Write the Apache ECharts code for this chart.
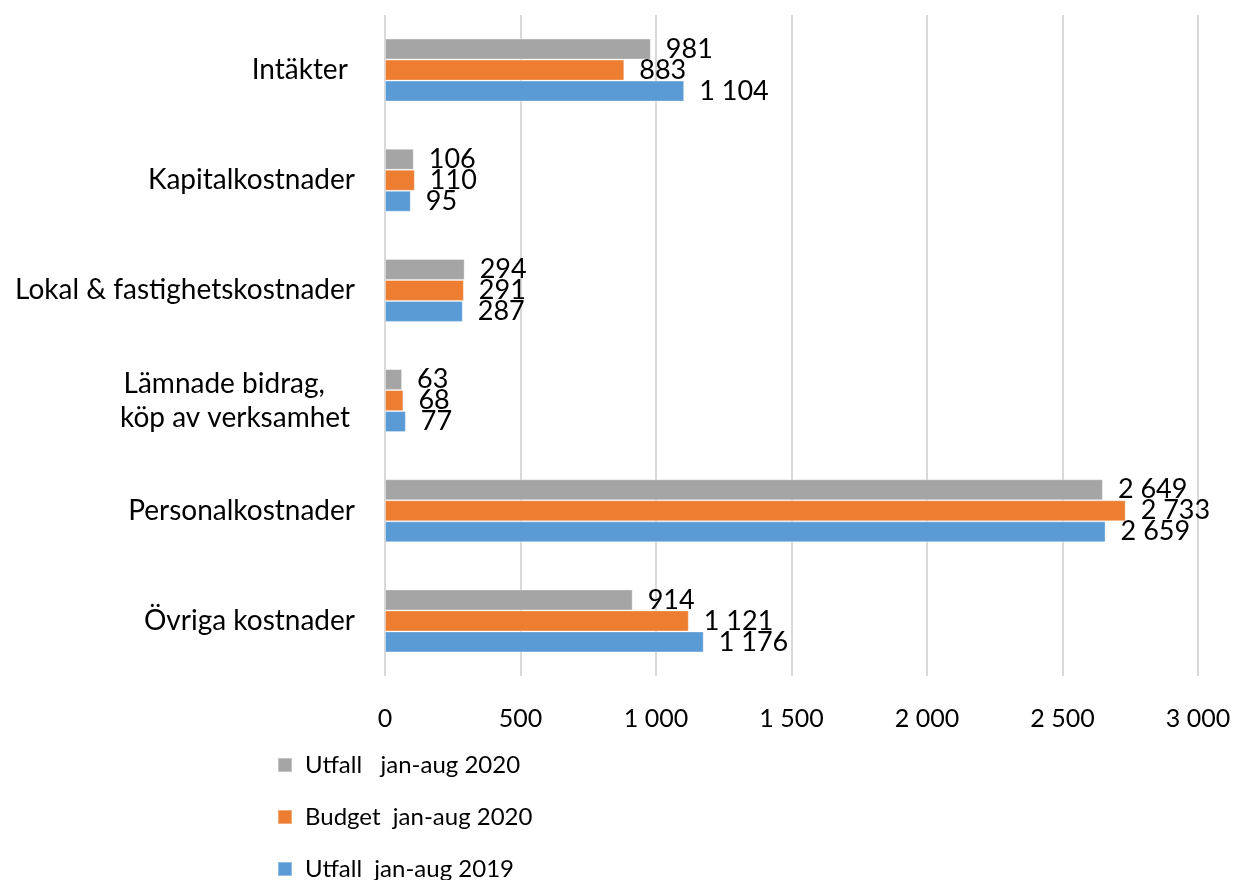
<!DOCTYPE html>
<html>
<head>
<meta charset="utf-8">
<script src="https://cdn.jsdelivr.net/npm/echarts@6/dist/echarts.min.js"></script>
<style>
  html, body { margin: 0; padding: 0; background: #fff; }
  #chart { width: 1234px; height: 880px; }
</style>
</head>
<body>
<div id="chart"></div>
<script>
// kategorier, uppifrån och ned
const categories = [
    'Intäkter ',
    'Kapitalkostnader',
    'Lokal & fastighetskostnader',
    'Lämnade bidrag,   \nköp av verksamhet',
    'Personalkostnader',
    'Övriga kostnader'
];
const seriesNames = ['Utfall   jan-aug 2020', 'Budget  jan-aug 2020', 'Utfall  jan-aug 2019'];
const utfall2020 = [981, 106, 294, 63, 2649, 914];
const budget2020 = [883, 110, 291, 68, 2733, 1121];
const utfall2019 = [1104, 95, 287, 77, 2659, 1176];
const colors = ['#a5a5a5', '#ed7d31', '#5b9bd5'];
const xTicks = [0, 500, 1000, 1500, 2000, 2500, 3000];

const font = 'Lato, "Open Sans", sans-serif';

function fmt(v) {
    return String(v).replace(/\B(?=(\d{3})+(?!\d))/g, ' ');
}

const chart = echarts.init(document.getElementById('chart'));

const makeSeries = (name, data, i) => ({
    name: name,
    type: 'bar',
    data: data,
    barWidth: 21,
    barGap: '0%',
    itemStyle: { color: colors[i], borderColor: 'rgba(255,255,255,0.35)', borderWidth: 1 },
    label: {
        show: true,
        position: 'right',
        distance: 15,
        color: '#000',
        fontFamily: font,
        fontSize: 27,
        formatter: p => fmt(p.value)
    },
    emphasis: { disabled: true }
});

chart.setOption({
    animation: false,
    textStyle: { fontFamily: font },
    grid: { left: 385, right: 36, top: 15, bottom: 204 },
    legend: {
        orient: 'vertical',
        left: 272,
        top: 748,
        height: 140,
        itemWidth: 14,
        itemHeight: 14,
        itemGap: 28,
        icon: 'rect',
        textStyle: { fontFamily: font, fontSize: 24, color: '#000', lineHeight: 24, padding: [0, 0, 0, 8] },
        data: seriesNames
    },
    xAxis: {
        type: 'value',
        min: xTicks[0],
        max: xTicks[xTicks.length - 1],
        interval: 500,
        axisLine: { show: false },
        axisTick: { show: false },
        splitLine: { lineStyle: { color: '#d9d9d9', width: 2 } },
        axisLabel: {
            color: '#000',
            fontFamily: font,
            fontSize: 25,
            margin: 30,
            formatter: v => fmt(v)
        }
    },
    yAxis: {
        type: 'category',
        inverse: true,
        data: categories,
        axisLine: { show: false },
        axisTick: { show: false },
        axisLabel: {
            color: '#000',
            fontFamily: font,
            fontSize: 28,
            margin: 30,
            lineHeight: 34,
            formatter: v => v.indexOf('\n') >= 0
                ? v.split('\n').map(s => '{c|' + s + '}').join('\n')
                : v,
            rich: {
                c: { width: 240, align: 'center', fontSize: 28, fontFamily: font, color: '#000', lineHeight: 34 }
            }
        }
    },
    series: [
        makeSeries(seriesNames[0], utfall2020, 0),
        makeSeries(seriesNames[1], budget2020, 1),
        makeSeries(seriesNames[2], utfall2019, 2)
    ]
});
</script>
</body>
</html>
